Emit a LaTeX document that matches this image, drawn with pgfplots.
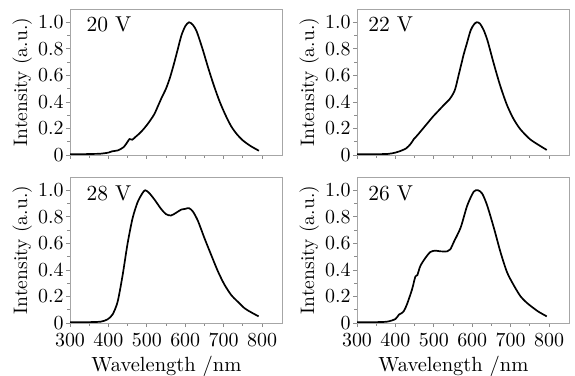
\documentclass[border=0pt]{standalone}
\usepackage{fontspec}
\usepackage{pgfplots}
\pgfplotsset{compat=1.18}
\usepackage{pgfplotstable}

\pgfplotstableread{
x y
300 0.005
330 0.006
360 0.008
380 0.010
400 0.018
410 0.028
425 0.035
440 0.060
450 0.100
455 0.120
462 0.115
470 0.135
480 0.160
490 0.190
500 0.225
510 0.265
520 0.310
530 0.375
540 0.440
550 0.500
560 0.580
570 0.680
580 0.790
590 0.900
600 0.970
610 1.000
620 0.980
630 0.930
645 0.800
660 0.655
675 0.520
690 0.400
705 0.300
720 0.215
735 0.155
750 0.110
770 0.068
792 0.032
}\dataA

\pgfplotstableread{
x y
300 0.005
340 0.006
380 0.008
400 0.018
411 0.028
428 0.050
440 0.085
448 0.120
453 0.135
462 0.165
472 0.200
485 0.245
498 0.290
511 0.330
524 0.370
541 0.420
550 0.460
556 0.500
567 0.630
578 0.760
585 0.830
596 0.940
605 0.985
612 1.000
620 0.990
630 0.940
640 0.860
655 0.700
672 0.530
690 0.380
707 0.275
725 0.195
750 0.120
776 0.070
794 0.038
}\dataB

\pgfplotstableread{
x y
300 0.005
340 0.006
380 0.010
398 0.028
411 0.065
424 0.160
437 0.360
450 0.600
463 0.790
476 0.910
489 0.980
496 1.000
506 0.980
520 0.930
537 0.860
550 0.820
563 0.810
576 0.830
590 0.855
600 0.860
610 0.865
620 0.840
633 0.770
650 0.640
668 0.510
685 0.390
702 0.290
720 0.210
737 0.160
755 0.110
772 0.080
791 0.050
}\dataC

\pgfplotstableread{
x y
300 0.005
340 0.006
378 0.010
400 0.030
409 0.063
415 0.072
422 0.090
430 0.140
443 0.250
452 0.350
457 0.360
465 0.430
478 0.490
491 0.535
504 0.545
517 0.540
535 0.540
543 0.555
552 0.610
570 0.720
587 0.885
604 0.990
615 1.000
626 0.975
639 0.885
657 0.710
674 0.530
691 0.380
709 0.280
726 0.200
743 0.150
770 0.090
794 0.050
}\dataD

\pgfplotsset{
  panel/.style={
    scale only axis, width=106bp, height=73bp,
    anchor=south west,
    xmin=300, xmax=852, ymin=0, ymax=1.1,
    xtick={300,400,500,600,700,800}, minor x tick num=1,
    ytick={0,0.2,0.4,0.6,0.8,1.0}, yticklabels={0,0.2,0.4,0.6,0.8,1.0},
    minor y tick num=1,
    axis line style={black!35}, tick style={black!45, line width=0.4pt},
    tick align=outside, major tick length=2bp, minor tick length=1.3bp,
    xtick pos=bottom, ytick pos=left,
    tick label style={font=\fontsize{10}{12}\selectfont},
    yticklabel style={inner sep=1pt},
    ylabel={Intensity (a.u.)},
    ylabel style={font=\fontsize{9.8}{11}\selectfont, at={(axis description cs:-0.225,0.5)}, anchor=center},
    xlabel style={font=\fontsize{10.3}{12}\selectfont},
  },
  curve/.style={black, line width=0.85pt, smooth, tension=0.45},
}

\begin{document}
\begin{tikzpicture}
\useasboundingbox (0,0) rectangle (287.5bp,188bp);
% top left
\begin{axis}[panel, at={(35bp,110.5bp)}, xticklabels={}]
\addplot[curve] table {\dataA};
\node[anchor=west, font=\fontsize{10.8}{12}\selectfont] at (axis description cs:0.045,0.895) {20 V};
\end{axis}
% top right
\begin{axis}[panel, at={(178.5bp,110.5bp)}, xticklabels={}]
\addplot[curve] table {\dataB};
\node[anchor=west, font=\fontsize{10.8}{12}\selectfont] at (axis description cs:0.02,0.895) {22 V};
\end{axis}
% bottom left
\begin{axis}[panel, at={(35bp,26.5bp)}, xlabel={Wavelength /nm},
  xlabel style={at={(axis description cs:0.455,0)}, anchor=north, yshift=-13bp}]
\addplot[curve] table {\dataC};
\node[anchor=west, font=\fontsize{10.8}{12}\selectfont] at (axis description cs:0.045,0.89) {28 V};
\end{axis}
% bottom right
\begin{axis}[panel, at={(178.5bp,26.5bp)}, xlabel={Wavelength /nm},
  xlabel style={at={(axis description cs:0.455,0)}, anchor=north, yshift=-13bp}]
\addplot[curve] table {\dataD};
\node[anchor=west, font=\fontsize{10.8}{12}\selectfont] at (axis description cs:0.02,0.89) {26 V};
\end{axis}
\end{tikzpicture}
\end{document}
